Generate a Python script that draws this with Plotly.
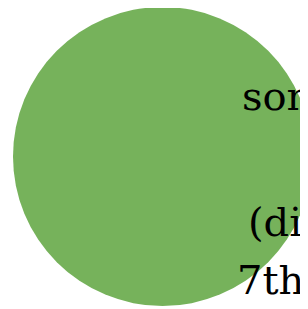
import plotly.graph_objects as go

# Data
circle_center = [162.5, 156.5]
circle_radius = [149.5]
labels = ["som", "(di", "7th"]
label_x = [240, 246, 235]
label_y = [96, 222, 280]

W, H = 308, 309
OFF = 8  # page body margin offset
fig = go.Figure()
cx, cy = circle_center
r = circle_radius[0]
fig.add_shape(type="circle", xref="x", yref="y",
              x0=cx - r, x1=cx + r, y0=cy - r, y1=cy + r,
              fillcolor="#76B25B", line=dict(width=0), layer="below")
for t, x, y in zip(labels, label_x, label_y):
    fig.add_annotation(x=x, y=y, text=t, showarrow=False, xanchor="left",
                       yanchor="middle",
                       font=dict(family="DejaVu Serif", size=40, color="#000000"))
fig.update_xaxes(range=[OFF, W + OFF], visible=False, fixedrange=True)
fig.update_yaxes(range=[H + OFF, OFF], visible=False, fixedrange=True)
fig.update_layout(width=W, height=H, margin=dict(l=0, r=0, t=0, b=0),
                  paper_bgcolor="white", plot_bgcolor="white", showlegend=False)
fig.write_html("out.html")
